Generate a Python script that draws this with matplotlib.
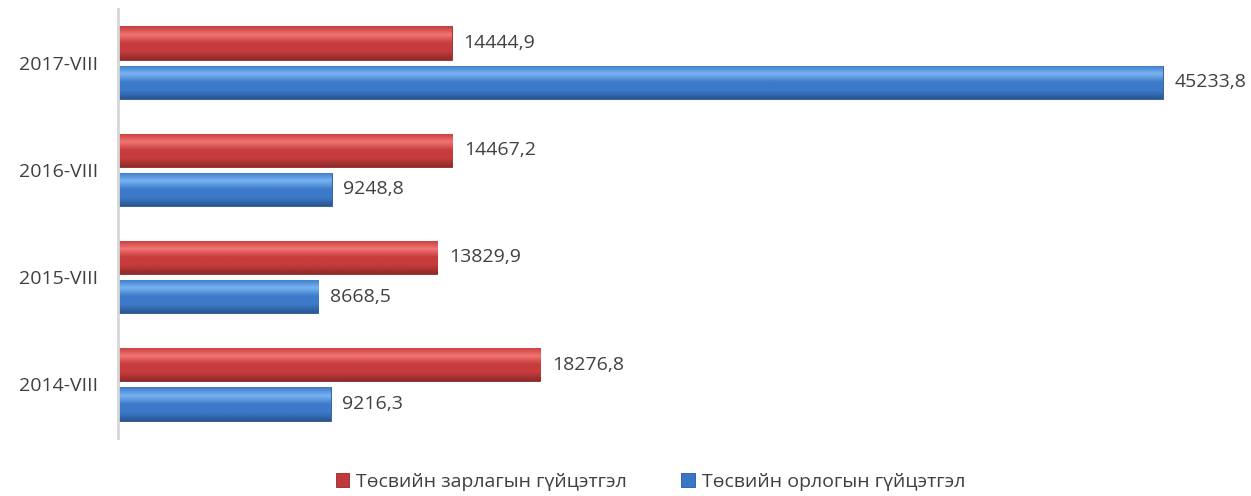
import numpy as np
import matplotlib
matplotlib.use("Agg")
import matplotlib.pyplot as plt
from matplotlib.colors import LinearSegmentedColormap

plt.rcParams['font.family'] = ['Open Sans', 'DejaVu Sans']

# data
years = ['2014-VIII', '2015-VIII', '2016-VIII', '2017-VIII']
spend = [18276.8, 13829.9, 14467.2, 14444.9]   # Төсвийн зарлагын гүйцэтгэл
income = [9216.3, 8668.5, 9248.8, 45233.8]     # Төсвийн орлогын гүйцэтгэл
names = ['Төсвийн зарлагын гүйцэтгэл', 'Төсвийн орлогын гүйцэтгэл']

red = '#C0393B'
blue = '#3A76C6'
txt = '#404040'

fig = plt.figure(figsize=(12.51, 4.96), dpi=100)
ax = fig.add_axes([0.0943, 0.117, 0.9057, 0.865])

y = np.arange(len(years))
h = 0.31
off = 0.183

b1 = ax.barh(y + off, spend, height=h, color=red, edgecolor='#8E2A2A', linewidth=0.6, label=names[0])
b2 = ax.barh(y - off, income, height=h, color=blue, edgecolor='#2A5690', linewidth=0.6, label=names[1])

# glossy vertical gradient on each bar
def shade(bars, light, mid, dark):
    cmap = LinearSegmentedColormap.from_list('g', [dark, mid, mid, light, mid])
    grad = np.linspace(0, 1, 64).reshape(-1, 1)
    for b in bars:
        x0, y0 = b.get_x(), b.get_y()
        im = ax.imshow(grad, cmap=cmap, aspect='auto', origin='lower',
                       extent=[x0, x0 + b.get_width(), y0, y0 + b.get_height()], zorder=2)
        im.set_clip_path(b)

shade(b1, '#F27474', '#C63C3C', '#8E2A2A')
shade(b2, '#78B4F2', '#3C7AC9', '#2A5690')

for bars, vals in [(b1, spend), (b2, income)]:
    for b, v in zip(bars, vals):
        ax.text(v + 500, b.get_y() + b.get_height() / 2, f'{v:.1f}'.replace('.', ','),
                va='center', ha='left', fontsize=14, color=txt)

ax.set_xlim(0, 49050)
ax.set_ylim(-0.5, 3.5)
ax.set_yticks(y)
ax.set_yticklabels(years, fontsize=14, color=txt)
ax.set_xticks([])
ax.tick_params(axis='y', length=0, pad=14)
for s in ['top', 'right', 'bottom']:
    ax.spines[s].set_visible(False)
ax.spines['left'].set_color('#D6D6D6')
ax.spines['left'].set_linewidth(2)

fig.legend(handles=[b1, b2], labels=names, loc='lower center', ncol=2,
           bbox_to_anchor=(0.52, -0.025), frameon=False, fontsize=14,
           handlelength=0.7, handleheight=0.7, handletextpad=0.35, columnspacing=2.8,
           labelcolor=txt)

fig.savefig('out.png', dpi=100)
